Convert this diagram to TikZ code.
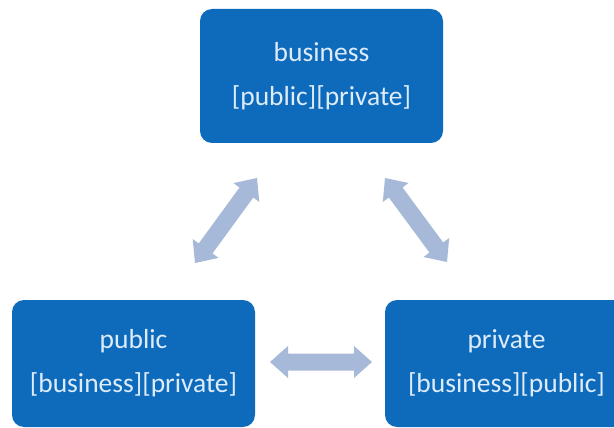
\documentclass[tikz,border=0pt]{standalone}
\usepackage{fontspec}
\setmainfont{Carlito}
\usetikzlibrary{calc}
\definecolor{boxblue}{RGB}{14,107,188}
\definecolor{boxtext}{RGB}{222,236,250}
\definecolor{arrowc}{RGB}{167,185,216}
\newcommand\hl{18pt}
\newcommand\hw{16pt}
\newcommand\sw{8.5pt}
\newcommand\fatarrow[2]{%
  \path ($(#1)!\hl!(#2)$) coordinate (hA) ($(#2)!\hl!(#1)$) coordinate (hB);
  \fill[arrowc] (#1) -- ($(hA)!\hw!90:(#2)$) -- ($(hA)!\sw!90:(#2)$)
    -- ($(hB)!\sw!-90:(#1)$) -- ($(hB)!\hw!-90:(#1)$) -- (#2)
    -- ($(hB)!\hw!90:(#1)$) -- ($(hB)!\sw!90:(#1)$)
    -- ($(hA)!\sw!-90:(#2)$) -- ($(hA)!\hw!-90:(#2)$) -- cycle;}
\tikzset{
  rolebox/.style={fill=boxblue, draw=none, rounded corners=12pt, text=boxtext,
    minimum width=243pt, align=center, inner sep=0pt,
    font=\fontsize{27.5pt}{44pt}\selectfont},
}
\begin{document}
\begin{tikzpicture}[x=1pt,y=-1pt]
\useasboundingbox (0,0) rectangle (614,428);
\clip (0,0) rectangle (614,428);
\node[rolebox, minimum height=134pt] (business) at (321.5,76) {business\\\relax[public][private]};
\node[rolebox, minimum height=127pt] (public) at (133.5,363.5) {public\\\relax[business][private]};
\node[rolebox, minimum height=127pt] (private) at (506.5,363.5) {private\\\relax[business][public]};
\coordinate (l1) at (195,263);
\coordinate (l2) at (257,178);
\coordinate (r1) at (385,178);
\coordinate (r2) at (447,262);
\coordinate (h1) at (270,362);
\coordinate (h2) at (372,362);
\fatarrow{l1}{l2}
\fatarrow{r1}{r2}
\fatarrow{h1}{h2}
\end{tikzpicture}
\end{document}
